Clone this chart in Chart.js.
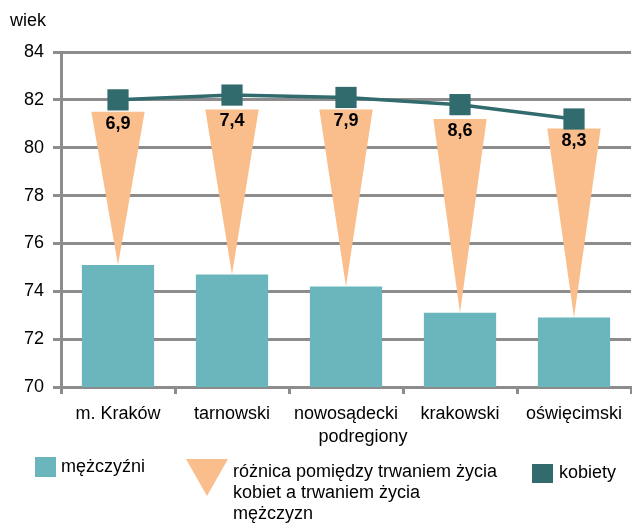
<!DOCTYPE html>
<html><head><meta charset="utf-8">
<script src="https://cdn.jsdelivr.net/npm/chart.js@4"></script>
<style>
html,body{margin:0;padding:0;background:#fff;}
#wrap{position:relative;width:632px;height:524px;font-family:"Liberation Sans",Arial,sans-serif;font-size:18px;color:#000;}
canvas{position:absolute;left:0;top:0;}
.t{position:absolute;white-space:nowrap;line-height:21px;}
.sq{position:absolute;}
</style></head>
<body>
<div id="wrap">
<canvas id="c" width="632" height="524"></canvas>
<div class="t" style="left:10px;top:10px;">wiek</div>
<div class="t" style="left:263px;top:426px;width:200px;text-align:center;">podregiony</div>
<div class="sq" style="left:35px;top:457px;width:21px;height:20px;background:#6BB6BD;"></div>
<div class="t" style="left:61px;top:456px;">mężczyźni</div>
<div class="sq" style="left:186px;top:459px;width:0;height:0;border-left:21px solid transparent;border-right:21px solid transparent;border-top:37px solid #F9BE8C;"></div>
<div class="t" style="left:233px;top:461px;">różnica pomiędzy trwaniem życia<br>kobiet a trwaniem życia<br>mężczyzn</div>
<div class="sq" style="left:532px;top:464px;width:21px;height:19px;background:#316B6E;"></div>
<div class="t" style="left:559px;top:462px;">kobiety</div>
</div>
<script>
const categories = ['m. Kraków', 'tarnowski', 'nowosądecki', 'krakowski', 'oświęcimski'];
const men = [75.1, 74.7, 74.2, 73.1, 72.9];
const women = [82.0, 82.2, 82.1, 81.8, 81.2];
const differenceLabels = ['6,9', '7,4', '7,9', '8,6', '8,3'];
const triangleTops = [81.5, 81.6, 81.6, 81.2, 80.8];
const yTicks = [70, 72, 74, 76, 78, 80, 82, 84];

const FONT = '"Liberation Sans", Arial, sans-serif';
const GRID = '#8c8c8c';

const triangleData = men.map((m, i) => [m, triangleTops[i]]);

const trianglePlugin = {
  id: 'triangles',
  afterDatasetDraw(chart, args) {
    if (args.index !== 1) return;
    const ctx = chart.ctx;
    const meta = args.meta;
    ctx.save();
    meta.data.forEach((el, i) => {
      const p = el.getProps(['x', 'y', 'base', 'width'], true);
      const half = p.width / 2;
      ctx.beginPath();
      ctx.moveTo(p.x - half, p.y);
      ctx.lineTo(p.x + half, p.y);
      ctx.lineTo(p.x, p.base);
      ctx.closePath();
      ctx.fillStyle = '#F9BE8C';
      ctx.fill();
      ctx.font = 'bold 18px ' + FONT;
      ctx.fillStyle = '#000';
      ctx.textAlign = 'center';
      ctx.textBaseline = 'middle';
      ctx.fillText(differenceLabels[i], p.x, p.y + 12);
    });
    ctx.restore();
  }
};

new Chart(document.getElementById('c'), {
  data: {
    labels: categories,
    datasets: [
      {
        type: 'line',
        label: 'kobiety',
        data: women,
        borderColor: '#316B6E',
        backgroundColor: '#316B6E',
        borderWidth: 3.5,
        tension: 0,
        pointStyle: 'rect',
        pointRadius: 15,
        pointBorderWidth: 0,
        order: 0
      },
      {
        type: 'bar',
        label: 'różnica pomiędzy trwaniem życia kobiet a trwaniem życia mężczyzn',
        data: triangleData,
        backgroundColor: 'rgba(0,0,0,0)',
        grouped: false,
        categoryPercentage: 1,
        barPercentage: 0.468,
        order: 1
      },
      {
        type: 'bar',
        label: 'mężczyźni',
        data: men,
        backgroundColor: '#6BB6BD',
        grouped: false,
        categoryPercentage: 1,
        barPercentage: 0.634,
        order: 2
      }
    ]
  },
  options: {
    responsive: false,
    animation: false,
    devicePixelRatio: 1,
    layout: { autoPadding: false, padding: { top: 52, right: 1, bottom: 76, left: 0 } },
    plugins: { legend: { display: false }, tooltip: { enabled: false } },
    scales: {
      x: {
        offset: true,
        afterFit(scale) { scale.height = 61; scale.paddingRight = 0; scale.paddingLeft = 0; },
        grid: { offset: true, drawOnChartArea: false, color: GRID, lineWidth: 3, tickLength: 7 },
        border: { display: true, color: GRID, width: 3 },
        ticks: { font: { family: FONT, size: 18 }, color: '#000', padding: 9, maxRotation: 0 },
        title: { display: false }
      },
      y: {
        min: 70, max: 84,
        afterBuildTicks(scale) { scale.ticks = yTicks.map(v => ({ value: v })); },
        afterFit(scale) { scale.width = 61; },
        grid: { color: GRID, lineWidth: 3, tickLength: 8 },
        border: { display: true, color: GRID, width: 3 },
        ticks: { font: { family: FONT, size: 18 }, color: '#000', padding: 9 }
      }
    }
  },
  plugins: [trianglePlugin]
});
</script>
</body></html>
